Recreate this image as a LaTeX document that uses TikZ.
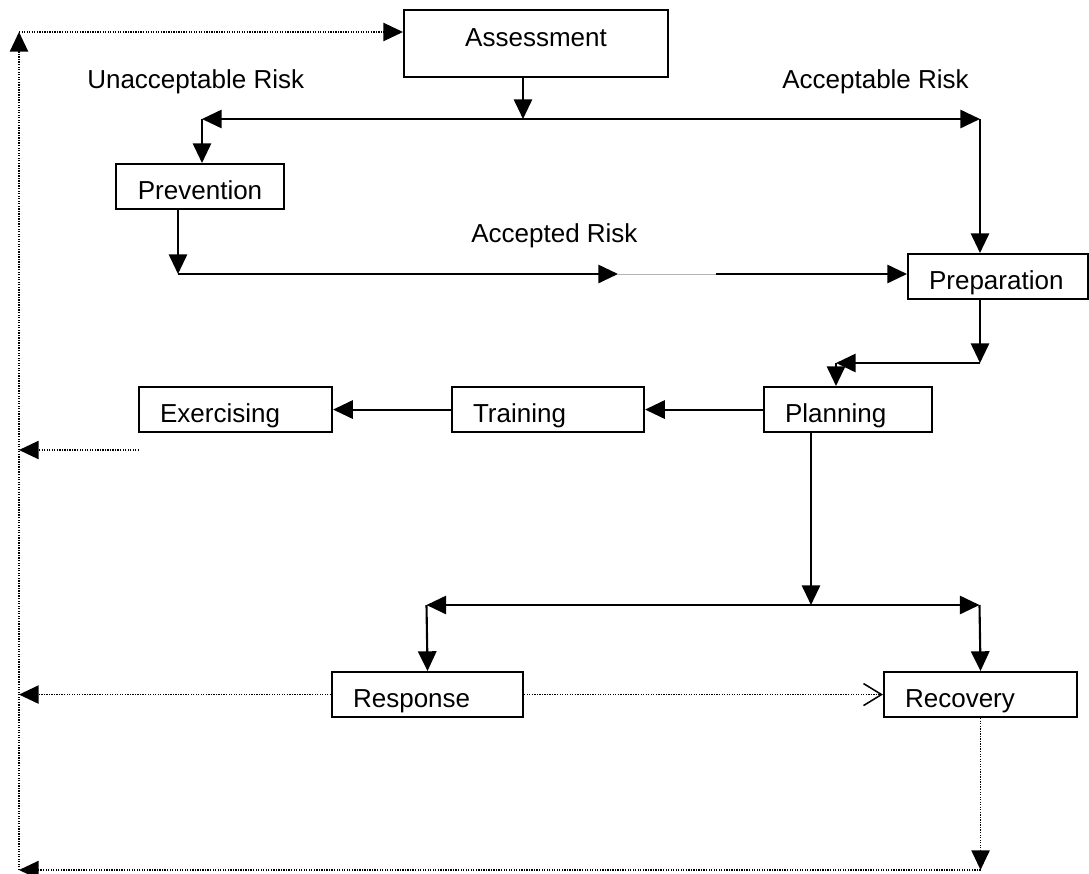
\documentclass[tikz,border=0pt]{standalone}
\usepackage{fontspec}
\setmainfont{Liberation Sans}
\usetikzlibrary{arrows.meta}

\tikzset{
  box/.style={draw, line width=1.5pt, anchor=north west, inner xsep=5.25mm, inner ysep=1mm,
    text height=7.75mm, text depth=1.5mm, align=left, text width=#1},
  lbl/.style={anchor=base west, inner sep=0pt},
  flow/.style={line width=1.5pt, -{Triangle[length=14pt,width=13pt]}},
  bothflow/.style={line width=1.5pt, {Triangle[length=14pt,width=13pt]}-{Triangle[length=14pt,width=13pt]}},
  loop/.style={line width=1.1pt, dash pattern=on 0.9pt off 0.9pt, -{Triangle[length=14pt,width=13pt]}},
  handover/.style={line width=1.1pt, dash pattern=on 0.9pt off 0.9pt, -{Straight Barb[length=4.5mm,width=5.5mm,line width=1.1pt]}}
}

\begin{document}
\begin{tikzpicture}[x=0.25mm,y=-0.25mm,font=\fontsize{18.5}{22}\selectfont]
    \useasboundingbox (0,0) rectangle (1089,874);

    \node[box=55.5mm, align=center, text height=8mm, text depth=6.75mm] (assess) at (403,9) {Assessment};
    \node[box=31.5mm, align=center] (prev) at (115,163) {Prevention};
    \node[box=34.5mm] (prep) at (907,253) {Preparation};
    \node[box=31.5mm] (plan) at (763,386) {Planning};
    \node[box=37.5mm] (train) at (451,386) {Training};
    \node[box=37.75mm] (exer) at (138,386) {Exercising};
    \node[box=37.25mm] (resp) at (331,671) {Response};
    \node[box=37.75mm] (recov) at (883,671) {Recovery};

    \node[lbl] (unacc) at (87,88) {Unacceptable Risk};
    \node[lbl] (accept) at (782,88) {Acceptable Risk};
    \node[lbl] (accepted) at (471,242) {Accepted Risk};

    \coordinate (split) at (523,119);
    \coordinate (lt) at (202,119);
    \coordinate (rt) at (980,119);
    \coordinate (acc) at (178,274);
    \coordinate (gapL) at (618,274);
    \coordinate (gapR) at (716,274);
    \coordinate (pdown) at (980,363);
    \coordinate (pleft) at (836,363);
    \coordinate (rsplit) at (811,605);
    \coordinate (rl) at (426.5,605);
    \coordinate (rr) at (979.5,605);
    \coordinate (rail) at (19,870);
    \coordinate (railtop) at (19,32);
    \coordinate (exdot) at (139,450);

    \draw[flow] (split |- assess.south) -- (split);
    \draw[bothflow] (lt) -- (rt);
    \draw[flow] (lt) -- (lt |- prev.north);
    \draw[flow] (rt) -- (rt |- prep.north);

    \draw[flow] (acc |- prev.south) -- (acc);
    \draw[flow] (acc) -- (gapL);
    \draw[gray!60, line width=0.6pt] (gapL) -- (gapR);
    \draw[flow] (gapR) -- (gapR -| prep.west);

    \draw[flow] (pdown |- prep.south) -- (pdown);
    \draw[flow] (pdown) -- (pleft);
    \draw[flow] (pleft) -- (pleft |- plan.north);
    \draw[flow] (plan.west) -- (train.east);
    \draw[flow] (train.west) -- (exer.east);

    \draw[flow] (rsplit |- plan.south) -- (rsplit);
    \draw[bothflow] (rl) -- (rr);
    \draw[flow] (rl) -- (resp.north);
    \draw[flow] (rr) -- (recov.north);

    \draw[loop] (rail) -- (railtop);
    \draw[loop] (railtop) -- (railtop -| assess.west);
    \draw[loop] (exdot) -- (exdot -| rail);
    \draw[loop] (resp.west) -- (resp.west -| rail);
    \draw[handover] (resp.east) -- (recov.west);
    \draw[loop] (recov.south) -- (recov.south |- rail);
    \draw[loop] (recov.south |- rail) -- (rail);
\end{tikzpicture}
\end{document}
